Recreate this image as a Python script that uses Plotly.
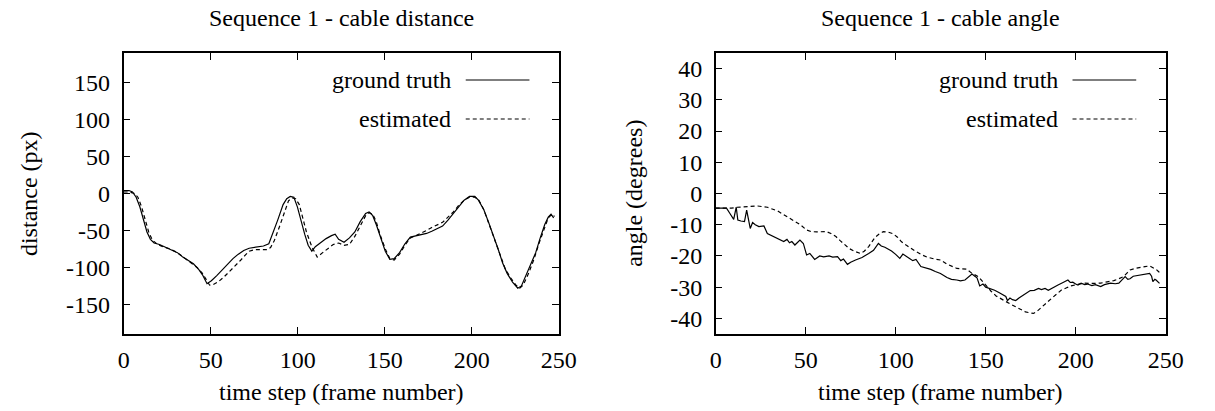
import plotly.graph_objects as go

# ---------------- data ----------------
# Left: cable distance (px)
dist_gt_t = [0, 3.1, 5.1, 7.2, 9.3, 11.3, 13.4, 15.4, 17.5, 20.6, 23.7, 27.8, 30.9, 34.0, 37.1, 40.1, 43.2, 45.3, 47.9, 50.4, 53.5, 56.6, 59.7, 62.8, 65.9, 69.0, 72.1, 76.2, 80.3, 83.4, 85.4, 88.5, 91.6, 93.7, 95.7, 97.8, 99.8, 101.9, 104.0, 106.0, 108.1, 110.1, 113.2, 116.3, 119.4, 121.5, 123.5, 126.6, 129.7, 132.8, 135.9, 139.0, 141.0, 143.1, 145.1, 148.2, 150.3, 152.9, 155.4, 158.5, 161.6, 164.7, 167.8, 170.9, 174.0, 177.0, 180.1, 183.2, 186.3, 189.4, 192.5, 195.6, 198.7, 201.7, 203.8, 206.9, 209.5, 212.0, 215.1, 217.7, 220.3, 223.4, 226.4, 228.5, 230.6, 233.7, 236.7, 239.3, 241.9, 243.9, 245.5, 247.0]
dist_gt_v = [4, 4, 2, -5, -18, -36, -52, -62, -67, -69, -72, -76, -80, -86, -90, -95, -103, -110, -122, -118, -111, -103, -95, -88, -82, -77, -74, -72, -71, -68, -56, -36, -15, -7, -4, -5, -18, -38, -55, -70, -78, -72, -66, -61, -57, -55, -62, -66, -60, -52, -38, -27, -25, -30, -42, -63, -78, -89, -88, -80, -68, -59, -57, -56, -54, -51, -48, -44, -36, -27, -17, -9, -4, -4, -9, -22, -38, -54, -75, -94, -108, -120, -128, -125, -114, -97, -80, -60, -42, -32, -28, -33]

dist_est_t = [0, 3.1, 6.2, 8.2, 10.3, 12.4, 14.4, 16.5, 19.6, 22.6, 26.8, 30.9, 35.0, 39.1, 42.2, 45.3, 47.3, 49.4, 51.5, 54.6, 57.6, 60.7, 63.8, 66.9, 70.0, 72.1, 75.1, 79.3, 82.3, 84.4, 86.5, 89.5, 92.6, 94.7, 96.8, 98.8, 100.9, 102.9, 105.0, 108.1, 111.2, 114.3, 117.3, 120.4, 123.5, 126.6, 129.7, 132.8, 135.9, 139.0, 141.0, 143.1, 145.1, 147.2, 150.3, 152.9, 155.4, 158.5, 161.6, 164.7, 167.8, 170.9, 174.0, 177.0, 180.1, 183.2, 186.3, 189.4, 192.5, 195.6, 198.7, 201.7, 203.8, 206.9, 210.0, 213.1, 216.2, 219.2, 222.3, 225.4, 227.5, 229.5, 232.6, 235.7, 238.8, 241.4, 243.9, 246.0, 247.5]
dist_est_v = [2, 2, 0, -5, -18, -35, -52, -63, -69, -72, -75, -80, -87, -94, -100, -108, -116, -124, -123, -119, -113, -106, -99, -91, -83, -78, -76, -76, -76, -73, -64, -45, -24, -10, -6, -7, -15, -33, -52, -72, -86, -80, -74, -69, -67, -70, -69, -58, -44, -30, -26, -28, -38, -55, -75, -88, -90, -82, -70, -60, -57, -54, -50, -46, -43, -39, -32, -25, -16, -9, -5, -5, -8, -22, -42, -62, -84, -102, -114, -124, -128, -124, -108, -89, -66, -48, -33, -28, -31]

# Right: cable angle (degrees)
ang_gt_t = [0, 3, 6, 8, 10, 11.4, 12.3, 14, 16, 17.2, 19.2, 20.5, 22, 24, 26.8, 28.7, 31, 34, 36, 37.8, 39.6, 41, 42.3, 44, 46.8, 48.7, 50.5, 52.3, 55, 57.8, 60, 63, 65, 67.7, 69.5, 71, 73.2, 75, 77.7, 81.3, 85, 87.7, 90.4, 92, 94, 97.7, 100, 102.3, 104, 106, 107.7, 109.5, 111.3, 114, 117, 119.5, 122, 124.9, 128.5, 131, 134, 136, 138.5, 140.5, 142.4, 144, 145.2, 146.7, 148.5, 150, 152.1, 155, 157.6, 159.5, 161.2, 162.1, 163.5, 164.9, 166.7, 168.5, 170.3, 172.5, 174.8, 177, 179.4, 181, 183, 184.8, 187, 190.2, 193, 195.7, 197, 198.4, 200, 201.3, 203, 205, 206.6, 209, 211, 213.9, 216, 219.4, 222, 224, 225.5, 227.5, 229, 230.2, 232, 235.6, 238, 241.1, 242.2, 242.9, 244, 244.7, 246.6]
ang_gt_v = [-4.7, -4.7, -4.7, -6.5, -8.3, -4.4, -8.5, -8.8, -9, -5.3, -11.2, -9.3, -10, -10.6, -10.4, -12.8, -13.5, -14.4, -15, -15.4, -14.7, -15.8, -15.4, -16.5, -14.9, -16, -19.7, -19.2, -21.1, -20, -20.3, -20, -20.4, -20.2, -21.5, -21, -22.7, -22, -21.3, -20.5, -19.2, -18.2, -16, -16.8, -17.2, -18.4, -19.5, -20.8, -19.4, -20.3, -20.8, -21.5, -21.1, -23.4, -23.8, -24.3, -25, -25.6, -26.9, -27.5, -27.7, -28, -27.7, -26.8, -25.8, -26.5, -27, -29.6, -29, -30, -30.4, -31, -31.8, -32.3, -33, -34.3, -33.5, -34, -34.3, -33.5, -32.8, -32, -31.1, -31, -30.4, -30.8, -30.4, -31, -30.2, -29.3, -28.5, -27.7, -28.5, -28.4, -29, -29.3, -28.7, -29.2, -29, -29.5, -29.2, -29.8, -29.2, -28.7, -28.9, -28.7, -27.8, -26.6, -27.5, -27.3, -26.5, -26.1, -25.8, -25.6, -26.5, -28.2, -27.5, -27.7, -28.8]

ang_est_t = [0, 5, 8.7, 12, 16, 20, 23.3, 26, 28.7, 31, 34.1, 37, 40, 43.2, 47, 50.5, 53, 56, 58.5, 61.4, 64, 66.8, 69, 71.5, 74.1, 77, 80.4, 82.5, 85, 86.8, 88.6, 90.8, 93.1, 96, 98.6, 101, 103.1, 106, 108, 110.4, 114, 117.6, 121, 124.9, 128.5, 131, 134, 136.5, 139.4, 142.2, 145.8, 148, 150.6, 153, 155.8, 158.5, 161.2, 164, 166.7, 169.5, 172.1, 174.5, 176.6, 179, 181.2, 184, 186.6, 189.5, 192.1, 195, 197.5, 201, 204.8, 209, 213.9, 217.5, 221.2, 224, 226.6, 228.5, 230.2, 233, 235.6, 238.5, 241.1, 243, 244.7, 246, 247.5]
ang_est_v = [-4.7, -4.7, -4.7, -4.4, -4.2, -4, -4, -4.2, -4.4, -4.9, -5.5, -6.5, -7.5, -8.5, -10, -11.7, -12.2, -12.3, -12.3, -12.2, -12.8, -13.8, -15, -16.3, -17.6, -18.5, -19.2, -18.5, -17, -15.5, -14, -13, -12.2, -12.4, -12.9, -14, -15.4, -16.6, -17.5, -18.3, -19.5, -20.4, -20.9, -21.3, -22.6, -23.2, -24, -24.1, -24.2, -25.5, -26.6, -28, -29.8, -31.3, -32.8, -33.8, -34.6, -35.5, -36.3, -37.1, -37.9, -38.2, -38.4, -37.5, -36.3, -35, -33.6, -32.2, -30.9, -30.2, -29.6, -29.1, -28.7, -28.8, -28.7, -28.3, -27.9, -27.3, -26.6, -25.5, -24.5, -24, -23.6, -23.4, -23.2, -23.8, -24.3, -25, -25.8]

x_ticks = [0, 50, 100, 150, 200, 250]
dist_ticks = [150, 100, 50, 0, -50, -100, -150]
dist_tick_text = ["150", "100", "50", "0", "-50", "-100", "-150"]
ang_ticks = [40, 30, 20, 10, 0, -10, -20, -30, -40]
ang_tick_text = ["40", "30", "20", "10", "0", "-10", "-20", "-30", "-40"]

titles = ["Sequence 1 - cable distance", "Sequence 1 - cable angle"]
y_titles = ["distance (px)", "angle (degrees)"]
x_title = "time step (frame number)"
legend_names = ["ground truth", "estimated"]

# ---------------- layout helpers ----------------
W, H = 1215, 411
FONT = "'Liberation Serif', 'Times New Roman', 'DejaVu Serif', serif"
FS = 24


def px(x):
    return x / W


def py(y):
    return 1 - y / H


plots = [(120, 564), (724, 1183)]
Y_DOM = [py(334), py(53)]

fig = go.Figure()
solid = dict(color="black", width=1.2)
dashed = dict(color="black", width=1.2, dash="4px,3px")

fig.add_trace(go.Scatter(x=dist_gt_t, y=dist_gt_v, mode="lines", line=solid, xaxis="x", yaxis="y", showlegend=False))
fig.add_trace(go.Scatter(x=dist_est_t, y=dist_est_v, mode="lines", line=dashed, xaxis="x", yaxis="y", showlegend=False))
fig.add_trace(go.Scatter(x=ang_gt_t, y=ang_gt_v, mode="lines", line=solid, xaxis="x2", yaxis="y2", showlegend=False))
fig.add_trace(go.Scatter(x=ang_est_t, y=ang_est_v, mode="lines", line=dashed, xaxis="x2", yaxis="y2", showlegend=False))

axis_common = dict(
    showline=True, linecolor="black", linewidth=1.5, mirror="ticks",
    ticks="inside", ticklen=7, tickwidth=1, tickcolor="black",
    showgrid=False, zeroline=False,
    tickfont=dict(family=FONT, size=FS, color="black"),
)

fig.update_layout(
    width=W, height=H,
    margin=dict(l=0, r=0, t=0, b=0),
    paper_bgcolor="white", plot_bgcolor="white",
    font=dict(family=FONT, size=FS, color="black"),
    xaxis=dict(domain=[px(plots[0][0]), px(plots[0][1])], range=[0, 250], tickvals=x_ticks,
               anchor="y", ticklabelstandoff=3, **axis_common),
    yaxis=dict(domain=Y_DOM, range=[-190, 190], tickvals=dist_ticks, ticktext=dist_tick_text,
               anchor="x", ticklabelstandoff=7, **axis_common),
    xaxis2=dict(domain=[px(plots[1][0]), px(plots[1][1])], range=[0, 250], tickvals=x_ticks,
                anchor="y2", ticklabelstandoff=3, **axis_common),
    yaxis2=dict(domain=Y_DOM, range=[-45, 45], tickvals=ang_ticks, ticktext=ang_tick_text,
                anchor="x2", ticklabelstandoff=7, **axis_common),
)

ann = []
shapes = []
for i, (x0, x1) in enumerate(plots):
    cx = (x0 + x1) / 2
    ann.append(dict(text=titles[i], x=px(cx), y=py(18), xref="paper", yref="paper",
                    xanchor="center", yanchor="middle", showarrow=False))
    ann.append(dict(text=x_title, x=px(cx), y=py(392), xref="paper", yref="paper",
                    xanchor="center", yanchor="middle", showarrow=False))
    ytx = 23 if i == 0 else 640
    ann.append(dict(text=y_titles[i], x=px(ytx), y=py(193.5), xref="paper", yref="paper",
                    xanchor="center", yanchor="middle", textangle=-90, showarrow=False))
    # legend (text left of sample, gnuplot style)
    for j, name in enumerate(legend_names):
        ly = 80 + j * 39
        ann.append(dict(text=name, x=px(x1 - 108), y=py(ly), xref="paper", yref="paper",
                        xanchor="right", yanchor="middle", showarrow=False))
        shapes.append(dict(type="line", xref="paper", yref="paper",
                           x0=px(x1 - 95), x1=px(x1 - 30), y0=py(ly), y1=py(ly),
                           line=solid if j == 0 else dashed))

fig.update_layout(annotations=ann, shapes=shapes)
fig.write_html("out.html")
